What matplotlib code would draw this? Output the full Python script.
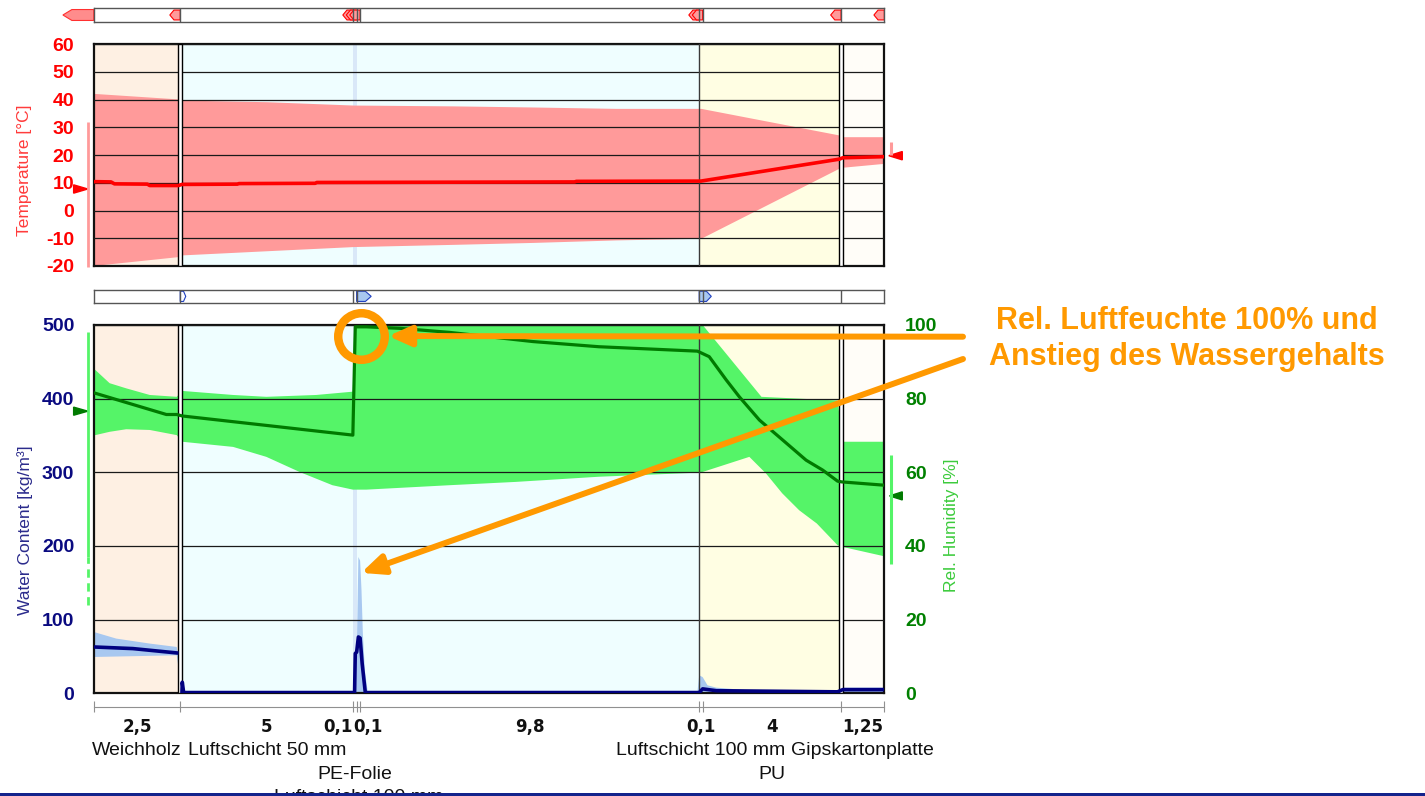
import numpy as np
import matplotlib
matplotlib.use("Agg")
import matplotlib.pyplot as plt
from matplotlib.patches import Polygon, Rectangle
from matplotlib.transforms import blended_transform_factory

plt.rcParams['font.family'] = ['Liberation Sans', 'DejaVu Sans']
plt.rcParams['axes.unicode_minus'] = False

# Schichtaufbau (Dicken in cm)
layer_thk = [2.5, 5, 0.1, 0.1, 9.8, 0.1, 4, 1.25]
layer_num = ['2,5', '5', '0,1', '0,1', '9,8', '0,1', '4', '1,25']
layer_name = ['Weichholz', 'Luftschicht 50 mm', 'PE-Folie', 'Luftschicht 100 mm', '',
              'Luftschicht 100 mm', 'PU', 'Gipskartonplatte']
layer_row = [0, 0, 1, 2, 3, 0, 1, 0]
layer_bg = ['#FEF0E3', '#EFFEFF', '#EFFEFF', '#EFFEFF', '#EFFEFF', '#FFFEE3', '#FFFEE3', '#FFFDF8']

# Temperatur: Mittelwert und Min/Max-Band
t_x = [0, 0.5, 0.6, 1.55, 1.62, 2.45, 2.55, 4.15, 4.2, 6.4, 6.45, 13.9, 13.95, 17.55, 21.55, 21.65, 22.85]
t_mean = [10.4, 10.3, 9.6, 9.5, 9.0, 9.0, 9.4, 9.5, 9.7, 9.8, 10.1, 10.3, 10.5, 10.6, 18.5, 19.0, 19.4]
tb_x = [0, 2.45, 2.55, 5.0, 7.5, 10.4, 12.7, 15.1, 17.55, 21.55, 21.65, 22.85]
tb_hi = [42.2, 40.2, 39.8, 39.2, 38.0, 37.7, 37.3, 36.8, 36.8, 27.2, 26.6, 26.6]
tb_lo = [-19.8, -16.6, -16.0, -14.5, -13.0, -12.2, -11.5, -10.6, -10.0, 15.3, 15.6, 17.0]

# Relative Feuchte [%]
rh_hi_x = [0, 0.46, 0.94, 1.62, 2.4, 2.56, 4.03, 4.99, 6.43, 7.49, 7.53, 17.6, 19.3, 21.5, 21.65, 22.85]
rh_hi = [88.2, 84.2, 82.8, 81.0, 80.5, 82.1, 81.0, 80.5, 81.0, 81.9, 100, 100, 80.5, 79.5, 68.3, 68.3]
rh_lo_x = [0, 0.46, 0.94, 1.62, 2.4, 2.56, 4.03, 4.99, 5.95, 6.9, 7.49, 7.88, 10.28, 12.2, 14.6,
           17.45, 17.6, 18.95, 19.43, 19.9, 20.39, 20.9, 21.5, 21.62, 22.85]
rh_lo = [70.0, 71.0, 71.7, 71.5, 70.1, 68.3, 66.9, 64.2, 60.1, 56.5, 55.3, 55.3, 56.5, 57.4, 58.8,
         59.9, 60.1, 64.2, 59.7, 54.3, 49.7, 46.1, 40.2, 39.8, 37.2]
rh_m_x = [0, 2.1, 2.4, 2.56, 7.49, 7.56, 7.88, 8.84, 10.28, 12.7, 14.6, 17.45, 17.79, 18.28,
          18.66, 19.24, 19.91, 20.59, 21.07, 21.5, 21.62, 22.85]
rh_m = [81.6, 75.7, 75.7, 75.3, 70.1, 99.5, 99.5, 99.1, 98.0, 95.5, 94.1, 92.9, 91.4, 85.1,
        80.5, 74.2, 68.8, 63.3, 60.6, 57.6, 57.4, 56.5]

# Wassergehalt [kg/m³] (nan = Unterbrechung an der Schichtgrenze)
wc_m_x = [0, 1.13, 2.4, 2.5, 2.55, 2.56, 2.6, 7.54, 7.56, 7.6, 7.65, 7.7, 7.76, 7.85,
          17.5, 17.6, 18.0, 21.5, 21.65, 22.85]
wc_m = [62.9, 60.7, 54.8, np.nan, 0, 15, 1, 1, 54, 56, 76.5, 75, 40, 1,
        1, 6, 3.5, 2, 5, 5]
wc_hi_x = [0, 0.65, 1.62, 2.4, 2.56, 2.6, 7.58, 7.62, 7.65, 7.70, 7.74, 7.78, 7.84, 7.92,
           17.45, 17.5, 17.6, 17.74, 17.99, 18.95, 21.5, 21.65, 22.85]
wc_hi = [83.3, 74.3, 67.5, 62.9, 15, 2, 2, 100, 185, 180, 140, 80, 30, 2,
         2, 24.4, 22, 10.9, 7.7, 4, 3.3, 7.7, 7.7]
wc_lo_x = [0, 2.4, 2.56, 22.85]
wc_lo = [49.3, 51.6, 0, 0]

# Randbedingungen (aussen links / innen rechts)
t_ext, t_ext_mean = (-20.2, 32.0), 7.75
t_int, t_int_mean = (20.0, 24.8), 19.75
rh_ext, rh_ext_mean = (37.0, 98.2), 76.6
rh_int, rh_int_mean = (35.2, 64.7), 53.6

bounds = np.concatenate([[0], np.cumsum(layer_thk)])
x_max = bounds[-1]
centers = (bounds[:-1] + bounds[1:]) / 2

W, H = 1425, 796
fig = plt.figure(figsize=(W / 100, H / 100), dpi=100)


def box(x0, y0, x1, y1):
    return [x0 / W, 1 - y1 / H, (x1 - x0) / W, (y1 - y0) / H]


ax_t = fig.add_axes(box(93.7, 44, 884.3, 266))
ax_w = fig.add_axes(box(93.7, 325, 884.3, 693.3))
ax_h = ax_w.twinx()
bar_t = fig.add_axes(box(93.7, 8.5, 884.3, 21.5))
bar_w = fig.add_axes(box(93.7, 290, 884.3, 302.7))

ax_t.set_ylim(-20, 60)
ax_w.set_ylim(0, 500)
ax_h.set_ylim(0, 100)


def style_plot(ax):
    ax.set_xlim(0, x_max)
    for b0, b1, c in zip(bounds[:-1], bounds[1:], layer_bg):
        ax.axvspan(b0, b1, color=c, lw=0, zorder=0)
    ax.axvspan(bounds[2], bounds[3], color='#D9E8F8', lw=0, zorder=0.5)
    for b in (bounds[1], bounds[7]):
        ax.axvspan(b - 0.065, b + 0.065, fc='white', ec='black', lw=1.0, zorder=3)
    ax.axvline(bounds[5], color='#3A3A3A', lw=1.0, zorder=3)
    ax.set_axisbelow(False)
    ax.grid(axis='y', color='#1A1A1A', lw=0.9)
    ax.set_xticks([])
    for s in ax.spines.values():
        s.set_linewidth(1.6)
        s.set_color('#111111')
    ax.tick_params(axis='y', length=0, labelsize=14, pad=14)


style_plot(ax_t)
style_plot(ax_w)
for s in ax_h.spines.values():
    s.set_visible(False)

# Temperatur
ax_t.fill_between(tb_x, tb_lo, tb_hi, color='#FF9A9A', lw=0, zorder=1)
ax_t.plot(t_x, t_mean, color='#FF0000', lw=2.6, zorder=4)
ax_t.set_yticks(np.arange(-20, 61, 10))
ax_t.tick_params(axis='y', labelcolor='#FF0000')
for lbl in ax_t.get_yticklabels():
    lbl.set_fontweight('bold')
ax_t.set_ylabel('Temperature [°C]', color='#FF3B3B', fontsize=12.5)
ax_t.yaxis.set_label_coords(-0.078, 0.43)

# Feuchte (auf der rechten Skala) und Wassergehalt
trh = ax_h.transData
ax_w.fill(np.r_[rh_hi_x, rh_lo_x[::-1]], np.r_[rh_hi, rh_lo[::-1]],
          color='#55F468', lw=0, zorder=1, transform=trh)
ax_w.fill(np.r_[wc_hi_x, wc_lo_x[::-1]], np.r_[wc_hi, wc_lo[::-1]],
          color='#A8C8F0', lw=0, zorder=1.2)
ax_w.plot(rh_m_x, rh_m, color='#007A00', lw=2.3, zorder=4, transform=trh)
ax_w.plot(wc_m_x, wc_m, color='#000080', lw=2.6, zorder=4.2)

ax_w.set_yticks(np.arange(0, 501, 100))
ax_w.tick_params(axis='y', labelcolor='#0A0A80')
for lbl in ax_w.get_yticklabels():
    lbl.set_fontweight('bold')
ax_w.set_ylabel('Water Content [kg/m³]', color='#2B2B8C', fontsize=12.5)
ax_w.yaxis.set_label_coords(-0.077, 0.443)

ax_h.set_yticks(np.arange(0, 101, 20))
ax_h.tick_params(axis='y', length=0, labelsize=14, pad=15, labelcolor='#008000')
for lbl in ax_h.get_yticklabels():
    lbl.set_fontweight('bold')
ax_h.set_ylabel('Rel. Humidity [%]', color='#3CCB3C', fontsize=12.5, rotation=90)
ax_h.yaxis.set_label_coords(1.0755, 0.457)

# Randbedingungen links/rechts
ax_t.vlines(-0.17, *t_ext, color='#FF9A9A', lw=2, clip_on=False)
ax_t.add_patch(Polygon([(-0.58, t_ext_mean + 1.5), (-0.17, t_ext_mean), (-0.58, t_ext_mean - 1.5)],
                       color='#FF0000', clip_on=False))
ax_t.vlines(23.04, *t_int, color='#FF9A9A', lw=2.2, clip_on=False)
ax_t.add_patch(Polygon([(22.98, t_int_mean), (23.37, t_int_mean + 1.5), (23.37, t_int_mean - 1.5)],
                       color='#FF0000', clip_on=False))
ax_h.vlines(-0.17, *rh_ext, color='#55F468', lw=2, clip_on=False)
ax_h.vlines(-0.17, 23.9, 37.0, color='#55F468', lw=2, linestyles=(0, (3, 2)), clip_on=False)
ax_h.add_patch(Polygon([(-0.58, rh_ext_mean + 1.1), (-0.17, rh_ext_mean), (-0.58, rh_ext_mean - 1.1)],
                       color='#007A00', clip_on=False))
ax_h.vlines(23.04, *rh_int, color='#55F468', lw=2.2, clip_on=False)
ax_h.add_patch(Polygon([(23.0, rh_int_mean), (23.37, rh_int_mean + 1.1), (23.37, rh_int_mean - 1.1)],
                       color='#007A00', clip_on=False))

# Leisten oberhalb der Diagramme
for bar in (bar_t, bar_w):
    bar.set_xlim(0, x_max)
    bar.set_ylim(0, 1)
    bar.set_xticks([])
    bar.set_yticks([])
    for s in bar.spines.values():
        s.set_color('#555555')
        s.set_linewidth(1.0)
for b in bounds[[1, 2, 3, 4, 5, 6, 7]]:
    bar_t.axvline(b, color='#555555', lw=1.0)
for b in bounds[[1, 2, 3, 5, 6, 7]]:
    bar_w.axvline(b, color='#555555', lw=1.0)
bar_t.add_patch(Polygon([(-0.89, 0.5), (-0.63, 0.08), (0, 0.08), (0, 0.92), (-0.63, 0.92)],
                        fc='#FF8C8C', ec='#FF3030', lw=0.8, clip_on=False))
for b in bounds[1:]:
    bar_t.add_patch(Polygon([(b - 0.3, 0.5), (b - 0.18, 0.12), (b, 0.12), (b, 0.88), (b - 0.18, 0.88)],
                            fc='#FF9A9A', ec='#FF0000', lw=0.8))
for b, w, fc in [(bounds[1], 0.16, 'white'), (bounds[3], 0.42, '#A8C8F0'), (bounds[5], 0.35, '#A8C8F0')]:
    bar_w.add_patch(Polygon([(b, 0.1), (b + 0.6 * w, 0.1), (b + w, 0.5), (b + 0.6 * w, 0.9), (b, 0.9)],
                            fc=fc, ec='#2040C0', lw=0.8))

# Bemaßung und Schichtbeschriftung
tx = blended_transform_factory(ax_w.transData, ax_w.transAxes)
ax_w.plot([0, x_max], [-0.037, -0.037], transform=tx, color='#909090', lw=0.8, clip_on=False)
ax_w.vlines(bounds, -0.022, -0.052, transform=tx, color='#909090', lw=0.8, clip_on=False)
for i in range(len(layer_thk)):
    xpos, ha = centers[i], 'center'
    if i == 2:
        xpos, ha = bounds[2] - 0.01, 'right'
    if i == 3:
        xpos, ha = bounds[2] - 0.01, 'left'
    ax_w.text(xpos, -0.0926, layer_num[i], transform=tx, ha=ha, va='center', fontsize=12,
              fontweight='bold', family=['DejaVu Sans'], color='#111111')
row_y = [-0.154, -0.2218, -0.2816]
for i in range(len(layer_thk)):
    if layer_name[i] and layer_row[i] < len(row_y):
        ax_w.text(centers[i], row_y[layer_row[i]], layer_name[i], transform=tx, ha='center',
                  va='center', fontsize=14, color='#111111')

# Hervorhebung
orange = '#FF9900'
ax_h.plot([7.72], [97.0], marker='o', ms=33.5, mfc='none', mec=orange, mew=6.1,
          clip_on=False, zorder=10)
arrow = dict(arrowstyle='-|>,head_length=0.9,head_width=0.4', color=orange, lw=4.3,
             shrinkA=0, shrinkB=0, mutation_scale=15)
ax_h.annotate('', xy=(8.51, 97.0), xycoords='data', xytext=(963 / W, 1 - 336.7 / H),
              textcoords='figure fraction', arrowprops=arrow, annotation_clip=False, zorder=10)
ax_h.annotate('', xy=(7.73, 32.7), xycoords='data', xytext=(963 / W, 1 - 359 / H),
              textcoords='figure fraction', arrowprops=arrow, annotation_clip=False, zorder=10)
fig.text(1187 / W, 1 - 329.3 / H, 'Rel. Luftfeuchte 100% und', ha='center', va='baseline',
         color=orange, fontsize=22, fontweight='bold')
fig.text(1187 / W, 1 - 365 / H, 'Anstieg des Wassergehalts', ha='center', va='baseline',
         color=orange, fontsize=22, fontweight='bold')

fig.add_artist(Rectangle((0, 0), 1, 3.5 / H, transform=fig.transFigure,
                         facecolor='#14238C', edgecolor='none', zorder=20))

fig.savefig('out.png', dpi=100, facecolor='white')
